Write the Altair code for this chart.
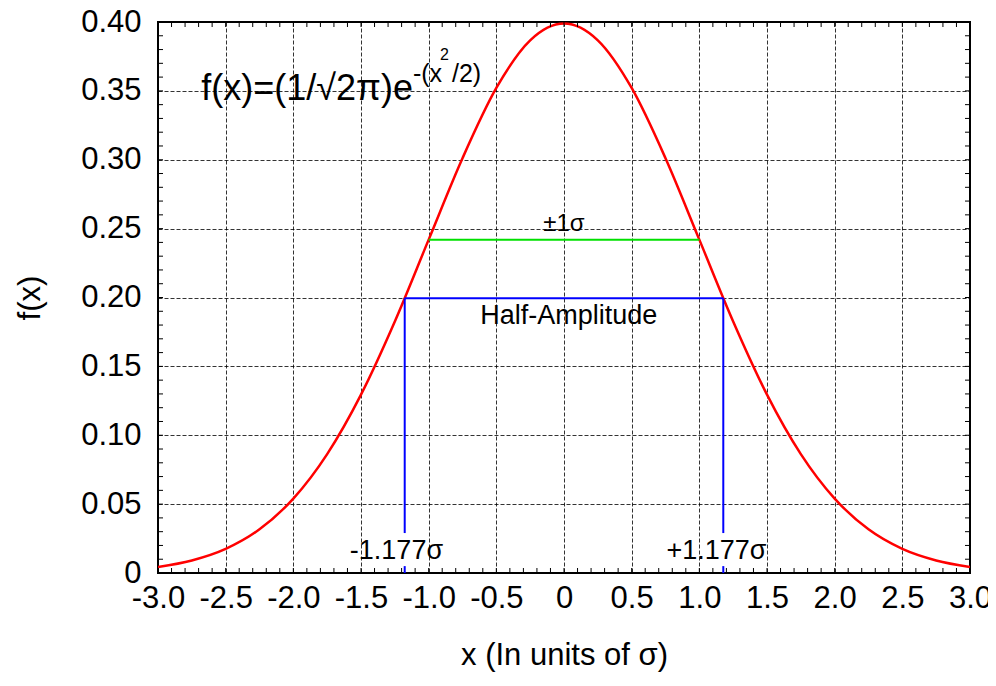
import altair as alt
import pandas as pd

# ---- data ----
curve_x = [-3.0, -2.75, -2.5, -2.25, -2.0, -1.75, -1.5, -1.25, -1.0, -0.75, -0.5, -0.25,
           0.0, 0.25, 0.5, 0.75, 1.0, 1.25, 1.5, 1.75, 2.0, 2.25, 2.5, 2.75, 3.0]
curve_y = [0.0044, 0.0091, 0.0175, 0.0317, 0.0540, 0.0863, 0.1295, 0.1826, 0.2420, 0.3011, 0.3521, 0.3867,
           0.3989, 0.3867, 0.3521, 0.3011, 0.2420, 0.1826, 0.1295, 0.0863, 0.0540, 0.0317, 0.0175, 0.0091, 0.0044]

sigma_x = [-1.0, 1.0]
sigma_y = [0.242, 0.242]

half_x1 = [-1.177, -1.177, 1.177, -1.177, 1.177]
half_x2 = [1.177, -1.177, 1.177, -1.177, 1.177]
half_y1 = [0.1995, 0.1995, 0.1995, 0.005, 0.005]
half_y2 = [0.1995, 0.029, 0.029, 0.0, 0.0]

x_major = [-3.0, -2.5, -2.0, -1.5, -1.0, -0.5, 0.0, 0.5, 1.0, 1.5, 2.0, 2.5, 3.0]
y_major = [0.0, 0.05, 0.10, 0.15, 0.20, 0.25, 0.30, 0.35, 0.40]
x_minor = [round(-3.0 + 0.1 * i, 2) for i in range(61)]
y_minor = [round(0.01 * i, 2) for i in range(41)]

labels_text = ["f(x)=(1/\u221a2\u03c0)e", "-(x", "2", "/2)", "\u00b11\u03c3", "Half-Amplitude",
               "-1.177\u03c3", "+1.177\u03c3"]
labels_x = [-2.68, -1.116, -0.916, -0.828, 0.0, 0.035, -1.238, 1.127]
labels_y = [0.3434, 0.3564, 0.3724, 0.3564, 0.2483, 0.1808, 0.0102, 0.0102]
labels_size = [36, 25, 16, 25, 24, 27, 27, 27]
labels_align = ["left", "left", "left", "left", "center", "center", "center", "center"]

W, H = 812, 551
FONT = "Liberation Sans"

xs = alt.Scale(domain=[-3, 3], nice=False, zero=False)
ys = alt.Scale(domain=[0, 0.4], nice=False, zero=False)

curve_df = pd.DataFrame({"x": curve_x, "y": curve_y})
sigma_df = pd.DataFrame({"x": sigma_x, "y": sigma_y})
half_df = pd.DataFrame({"x": half_x1, "x2": half_x2, "y": half_y1, "y2": half_y2})
xmin_df = pd.DataFrame({"x": x_minor})
ymin_df = pd.DataFrame({"y": y_minor})
lab_df = pd.DataFrame({"t": labels_text, "x": labels_x, "y": labels_y,
                       "s": labels_size, "a": labels_align})

x_axis = alt.Axis(values=x_major, title="x (In units of \u03c3)",
                  labelExpr="datum.value == 0 ? '0' : replace(format(datum.value, '.1f'), '\u2212', '-')",
                  grid=True, gridDash=[4, 2], gridColor="#000", gridOpacity=0.8, gridWidth=1,
                  ticks=False, domain=False, labelFontSize=31, titleFontSize=31,
                  labelFont=FONT, titleFont=FONT, labelColor="#000", titleColor="#000",
                  titleFontWeight="normal",
                  labelPadding=10, titlePadding=27, labelFlush=False, labelOverlap=False)
y_axis = alt.Axis(values=y_major, title="f(x)",
                  labelExpr="datum.value == 0 ? '0' : format(datum.value, '.2f')",
                  grid=True, gridDash=[4, 2], gridColor="#000", gridOpacity=0.8, gridWidth=1,
                  ticks=False, domain=False, labelFontSize=31, titleFontSize=31,
                  labelFont=FONT, titleFont=FONT, labelColor="#000", titleColor="#000",
                  titleFontWeight="normal",
                  labelPadding=17, titlePadding=34, labelFlush=False, labelOverlap=False)

X = alt.X("x:Q", scale=xs, axis=x_axis)
Y = alt.Y("y:Q", scale=ys, axis=y_axis)

base_curve = alt.Chart(curve_df).mark_line(color="#ff0000", strokeWidth=2.5, interpolate="monotone",
                                           clip=True).encode(x=X, y=Y)

sigma_line = alt.Chart(sigma_df).mark_line(color="#00e000", strokeWidth=2).encode(x=X, y=Y)

half_lines = alt.Chart(half_df).mark_rule(color="#0000ff", strokeWidth=2).encode(
    x=X, x2="x2:Q", y=Y, y2="y2:Q")

tick_len = 5
xt_bottom = alt.Chart(xmin_df).mark_rule(color="#000", strokeWidth=1).encode(
    x=X, y=alt.value(H), y2=alt.value(H - tick_len))
xt_top = alt.Chart(xmin_df).mark_rule(color="#000", strokeWidth=1).encode(
    x=X, y=alt.value(0), y2=alt.value(tick_len))
yt_left = alt.Chart(ymin_df).mark_rule(color="#000", strokeWidth=1).encode(
    y=Y, x=alt.value(0), x2=alt.value(tick_len))
yt_right = alt.Chart(ymin_df).mark_rule(color="#000", strokeWidth=1).encode(
    y=Y, x=alt.value(W), x2=alt.value(W - tick_len))

texts = []
for al in ["left", "center"]:
    texts.append(
        alt.Chart(lab_df).transform_filter(alt.datum.a == al).mark_text(
            align=al, baseline="alphabetic", font=FONT, color="#000").encode(
            x=X, y=Y,
            text="t:N",
            size=alt.Size("s:Q", scale=None, legend=None),
        )
    )

chart = alt.layer(base_curve, sigma_line, half_lines, xt_bottom, xt_top, yt_left, yt_right, *texts).properties(
    width=W, height=H,
    background="white",
    autosize=alt.AutoSizeParams(type="none"),
    padding={"left": 150, "top": 14, "right": 18, "bottom": 100},
).configure_view(stroke="#000", strokeWidth=2)

chart.save("out.html", embed_options={"renderer": "svg", "actions": False})
